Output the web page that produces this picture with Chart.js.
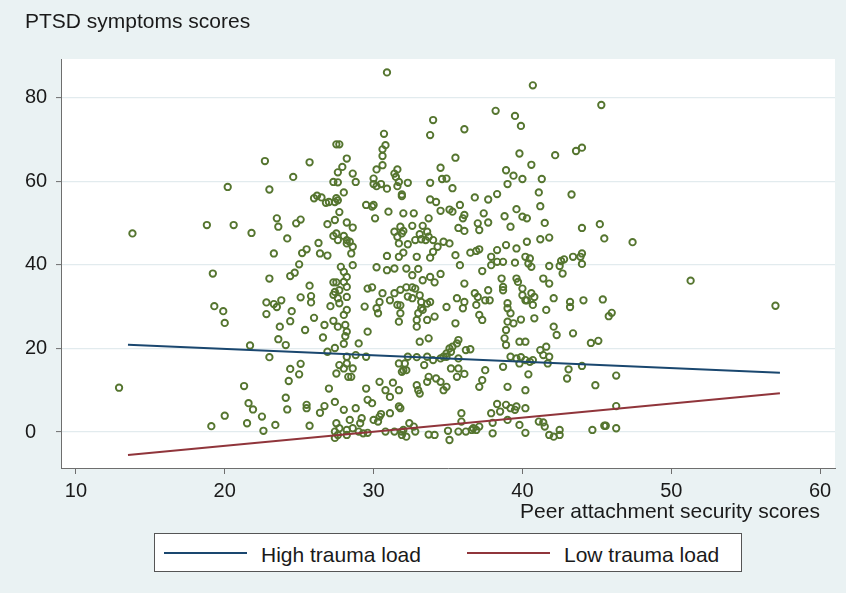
<!DOCTYPE html>
<html>
<head>
<meta charset="utf-8">
<script src="https://cdn.jsdelivr.net/npm/chart.js@4/dist/chart.umd.min.js"></script>
<style>
  html, body { margin: 0; padding: 0; background: #eaf2f3; }
  #wrap { position: relative; width: 846px; height: 593px; overflow: hidden; font-family: "Liberation Sans", Arial, sans-serif; color: #1a1a1a; }
  #c { position: absolute; left: 0; top: 0; }
  .txt { position: absolute; font-size: 21px; line-height: 21px; white-space: nowrap; }
  #legend { position: absolute; left: 154px; top: 533px; width: 586px; height: 37px; border: 1px solid #555; background: #fff; }
  .lg-line { position: absolute; height: 2px; width: 83px; top: 18px; }
  .lg-text { position: absolute; font-size: 21px; line-height: 21px; top: 10px; white-space: nowrap; }
</style>
</head>
<body>
<div id="wrap">
  <canvas id="c" width="846" height="593"></canvas>
  <div class="txt" id="ytitle" style="left:25px; top:10px;"></div>
  <div class="txt" id="xtitle" style="left:0; width:820px; text-align:right; top:500px;"></div>
  <div id="legend"></div>
</div>
<script>
// ---- Data ----
const yAxisTitle = "PTSD symptoms scores";
const xAxisTitle = "Peer attachment security scores";
const xTicks = [10, 20, 30, 40, 50, 60];
const yTicks = [0, 20, 40, 60, 80];
const seriesNames = ["High trauma load", "Low trauma load"];
const highLineX = [13.5, 57.3];
const highLineY = [20.9, 14.2];
const lowLineX = [13.5, 57.3];
const lowLineY = [-5.5, 9.3];
// observed scores: [peer attachment security, PTSD symptoms]
const observations = [
[27.5,68.8],[27.7,68.8],[28.2,65.4],[27.9,63.4],[27.6,62.1],[22.7,64.8],[25.7,64.5],[24.6,61.0],[20.2,58.6],[23.0,58.0],
[27.3,59.8],[27.6,59.7],[28.0,57.3],[26.0,55.9],[26.2,56.5],[26.5,56.1],[26.8,54.8],[27.0,55.0],[27.5,55.9],[27.4,55.0],
[27.6,55.4],[27.7,52.6],[23.5,51.1],[23.6,49.1],[25.1,50.8],[24.8,49.9],[27.4,50.7],[26.9,49.7],[28.2,50.1],[18.8,49.5],
[20.6,49.5],[21.8,47.6],[13.8,47.5],[24.2,46.3],[27.5,47.5],[27.3,46.9],[27.6,45.9],[28.0,46.9],[28.2,45.9],[26.3,45.2],
[28.2,45.1],[23.3,42.7],[25.2,42.8],[25.5,43.7],[26.4,42.7],[26.9,42.2],
[19.2,37.9],[23.0,36.7],[24.4,37.3],[24.7,38.1],[25.0,40.1],[27.8,39.5],[28.0,38.3],[28.2,37.1],[25.7,35.0],[27.3,35.8],
[27.5,35.8],[27.4,33.5],[27.3,32.8],[27.6,32.0],[27.7,33.9],[28.0,35.9],[28.2,34.7],[28.2,32.3],[19.3,30.1],[19.9,28.9],
[20.0,26.1],[22.8,31.0],[22.8,28.2],[23.3,30.6],[23.5,29.9],[23.8,31.5],[24.5,28.9],[25.1,32.2],[25.8,32.5],[25.8,31.0],
[24.4,26.5],[23.7,25.2],[25.4,24.4],[26.0,27.3],[27.1,30.1],[27.7,30.8],[28.2,29.2],[28.0,28.0],[26.7,25.6],[27.3,26.6],
[27.6,25.2],[28.1,25.6],[28.2,24.0],[26.6,22.6],[28.1,22.9],[28.0,21.1],[23.6,22.2],[24.1,20.8],[21.7,20.7],[23.0,17.9],
[26.9,19.2],[27.4,20.1],[28.2,18.0],[28.2,16.4],[27.7,16.0],[28.0,15.2],[28.3,13.2],[24.4,15.1],[25.1,16.3],[25.0,13.8],
[24.3,12.2],[27.5,14.0],[12.9,10.6],[21.3,11.0],[21.6,6.9],[21.9,5.4],[24.1,8.2],[24.2,5.4],[25.5,6.5],[25.5,5.7],
[26.7,6.2],[26.4,4.6],[27.0,10.4],[27.4,7.2],[28.0,5.3],[20.0,3.9],[19.1,1.4],[21.5,2.1],[22.5,3.7],[22.6,0.3],
[23.4,1.7],[25.7,1.5],[27.5,2.1],[27.7,0.9],[27.4,0.1],[27.6,-0.7],[28.2,0.5],[27.4,-1.4],[28.2,-0.7],
[30.9,86.0],[40.7,82.9],[45.3,78.2],[38.2,76.8],[39.5,75.6],[39.9,73.2],[34.0,74.6],[33.8,71.0],[36.1,72.4],[30.7,71.3],
[30.8,68.6],[30.6,67.6],[30.6,66.0],[30.6,63.8],[30.2,62.8],[30.0,60.6],[30.0,59.3],[30.2,58.8],[30.5,59.3],[30.9,58.2],
[31.4,61.8],[31.5,61.0],[31.6,62.8],[31.7,59.8],[31.6,58.8],[32.3,59.6],[35.5,65.6],[34.5,63.2],[34.6,60.5],[34.9,60.6],
[33.8,59.6],[35.3,58.3],[39.8,66.6],[40.6,63.9],[42.2,66.2],[43.6,67.2],[44.0,68.0],[38.9,62.6],[39.4,61.3],[40.0,60.5],
[39.0,59.3],[41.3,60.5],[41.1,57.3],[41.2,54.0],[41.5,50.0],[43.3,56.8],[45.2,49.7],[44.0,48.8],[45.5,46.3],[47.4,45.4],
[31.9,56.8],[31.9,56.4],[31.0,52.7],[30.1,51.1],[29.5,54.3],[29.9,53.9],[30.0,54.3],[32.0,52.3],[32.7,52.3],[33.8,55.6],
[34.2,55.0],[34.5,52.9],[35.3,52.7],[35.1,53.2],[35.8,54.3],[36.1,51.9],[36.0,51.1],[33.7,51.1],[36.8,56.1],[37.7,55.6],
[38.3,56.9],[37.4,52.3],[38.8,51.6],[39.6,53.3],[40.0,51.5],[40.3,51.1],[37.0,49.9],[37.7,50.1],[39.2,49.1],[37.1,48.3],
[35.7,48.8],[36.1,48.1],[32.6,49.3],[33.3,49.3],[33.6,47.9],[33.1,47.3],[33.2,46.1],[33.5,45.9],[33.7,46.7],[34.0,45.9],
[31.4,47.9],[31.8,49.1],[32.0,48.1],[31.6,46.7],[31.9,47.5],[31.7,45.1],[32.3,44.9],[32.8,45.9],[28.6,48.9],[28.6,61.8],
[28.8,59.8],[28.6,44.3],[28.4,45.5],[30.9,42.1],[31.7,41.9],[32.0,42.9],[32.9,41.9],[33.8,41.7],[34.0,43.1],[34.3,44.3],
[34.7,45.5],[35.1,45.1],[35.5,42.3],[36.5,42.9],[36.9,43.3],[37.1,43.7],[38.3,43.5],[37.9,41.9],[38.9,44.7],[39.6,43.9],
[40.3,45.5],[40.2,41.9],[41.2,46.1],[41.8,46.5],[42.8,41.3],[43.4,41.9],[44.0,42.7],[43.9,41.9],
[28.6,39.9],[30.2,39.4],[30.9,38.7],[31.4,39.1],[33.0,39.0],[32.6,37.5],[32.2,39.1],[33.3,36.3],[33.8,37.1],[34.5,37.8],
[34.1,35.8],[35.8,39.9],[36.1,35.5],[37.3,38.5],[37.9,39.9],[38.3,40.7],[38.7,40.7],[39.5,40.5],[40.4,40.3],[40.5,41.5],
[40.6,39.5],[41.8,39.7],[42.5,39.7],[42.7,37.9],[42.6,40.9],[44.0,40.2],[29.9,34.6],[30.6,33.2],[31.4,33.2],[31.1,31.5],
[30.4,31.1],[30.2,29.6],[30.3,28.4],[31.8,34.0],[32.2,34.6],[32.6,34.6],[32.8,34.3],[32.3,32.4],[32.6,32.0],[33.1,32.7],
[33.2,31.1],[33.6,30.7],[33.8,31.1],[33.3,29.2],[33.2,29.6],[33.0,28.4],[31.6,30.4],[31.8,30.3],[31.8,28.4],[31.7,26.4],
[32.9,26.8],[32.9,25.2],[33.6,26.8],[34.1,27.6],[33.7,22.4],[33.1,21.6],[34.9,29.9],[35.6,32.0],[36.1,31.1],[36.0,29.6],
[35.5,26.0],[36.8,33.2],[36.9,30.4],[37.1,28.0],[37.3,26.8],[37.5,31.5],[37.7,33.9],[37.8,31.5],[37.0,32.3],[38.6,36.7],
[38.7,34.7],[38.7,33.9],[39.0,30.8],[39.0,29.6],[39.2,28.4],[39.0,26.4],[38.9,24.4],[38.8,22.4],[38.9,20.8],[39.4,26.0],
[39.6,36.7],[39.7,35.9],[40.0,34.3],[40.0,32.7],[40.2,31.5],[40.6,33.2],[40.8,32.3],[40.7,30.4],[40.8,27.2],[40.3,31.5],
[39.9,26.9],[41.4,36.7],[41.8,35.5],[42.1,32.0],[41.6,29.2],[42.1,25.2],[42.3,23.2],[43.4,23.6],[43.2,31.1],[43.2,29.9],
[44.1,31.5],[45.4,31.7],[45.8,27.7],[46.0,28.5],[44.6,21.3],[45.1,21.8],[39.8,21.6],[40.2,21.6],[41.2,19.6],[41.6,20.4],
[41.4,18.4],[41.8,18.0],[41.7,16.4],[39.2,18.0],[39.6,17.6],[39.9,17.9],[40.2,17.2],[40.5,16.8],[39.8,16.4],[40.7,17.2],
[38.7,15.6],[37.5,14.8],[37.3,12.4],[37.1,10.8],[39.0,10.8],[40.2,10.0],[40.4,13.8],[43.1,15.0],[43.0,12.8],[44.0,15.8],
[44.9,11.2],[46.3,13.5],[34.9,18.0],[35.2,19.2],[35.3,20.4],[35.7,22.0],[35.6,21.2],[35.1,20.0],[34.9,18.8],[35.7,17.6],
[35.7,15.2],[36.1,13.9],[35.6,13.2],[35.2,15.2],[36.2,19.6],[36.5,19.8],[33.6,18.0],[34.0,17.2],[34.5,17.6],[34.7,18.0],
[31.7,16.4],[31.9,14.4],[32.0,14.8],[32.1,16.4],[32.2,14.8],[32.3,18.0],[32.9,17.9],[33.4,16.0],[33.7,13.2],[32.9,11.2],
[33.0,10.0],[33.1,9.2],[33.6,12.0],[34.2,12.8],[34.5,12.0],[34.7,10.0],[34.9,10.8],[31.3,11.8],[31.1,8.4],[30.8,10.0],
[31.7,10.0],[30.4,12.0],[29.5,10.4],[29.6,7.7],[29.9,6.9],[28.8,5.7],[28.5,13.2],[28.6,15.2],[31.7,6.1],[31.8,5.7],
[31.1,4.5],[30.5,4.3],[30.4,3.7],[30.0,2.9],[30.3,2.5],[30.8,0.1],[31.4,0.1],[31.9,0.1],[32.0,0.5],[32.4,2.1],
[32.7,1.3],[32.8,0.1],[32.2,-1.1],[31.9,-0.7],[29.1,2.1],[28.6,0.9],[29.3,-0.3],[29.6,-0.2],[29.0,0.1],[28.4,2.9],
[29.2,3.3],[33.7,-0.6],[34.1,-0.7],[35.0,0.3],[35.1,-1.9],[35.7,0.1],[35.9,2.5],[35.9,4.5],[36.2,0.1],[36.6,0.5],
[36.9,0.5],[36.7,0.9],[37.1,1.3],[38.0,2.2],[38.0,-0.3],[37.9,4.5],[38.3,6.7],[38.5,4.9],[38.9,6.5],[39.2,5.7],
[39.5,5.3],[39.6,6.1],[40.2,5.7],[39.0,2.9],[39.8,1.7],[40.2,-0.2],[41.1,2.5],[41.5,1.3],[41.8,-0.7],[42.1,-1.1],
[42.5,-0.7],[42.5,0.5],[44.7,0.5],[45.5,1.5],[45.6,1.5],[46.3,0.9],[41.4,2.3],[46.3,6.2],[51.3,36.2],[57.0,30.2],
[28.5,42.7],[29.0,21.2],[28.8,18.4],[29.4,30.0],[29.6,34.3],[29.6,24.0],[29.5,18.0]
];

// ---- Styles ----
const FONT = '"Liberation Sans", Arial, sans-serif';
const BG = '#eaf2f3';
const GRID = '#e2ebee';
const AXIS = '#6e6e6e';
const NAVY = '#1a476f';
const MAROON = '#90353b';
const GREEN = '#55752f';

const bgPlugin = {
  id: 'bg',
  beforeDraw(chart) {
    const { ctx, chartArea: a } = chart;
    ctx.save();
    ctx.fillStyle = BG;
    ctx.fillRect(0, 0, chart.width, chart.height);
    ctx.fillStyle = '#ffffff';
    ctx.fillRect(a.left, a.top, a.right - a.left, a.bottom - a.top);
    ctx.restore();
  }
};

const chart = new Chart(document.getElementById('c'), {
  data: {
    datasets: [
      {
        type: 'line', label: seriesNames[0], order: 1,
        data: highLineX.map((x, i) => ({ x, y: highLineY[i] })),
        borderColor: NAVY, borderWidth: 2, pointRadius: 0, fill: false, tension: 0
      },
      {
        type: 'line', label: seriesNames[1], order: 1,
        data: lowLineX.map((x, i) => ({ x, y: lowLineY[i] })),
        borderColor: MAROON, borderWidth: 2, pointRadius: 0, fill: false, tension: 0
      },
      {
        type: 'scatter', label: 'observed', order: 2,
        data: observations.map(p => ({ x: p[0], y: p[1] })),
        pointStyle: 'circle', pointRadius: 3.2, borderWidth: 1.9,
        borderColor: GREEN, backgroundColor: 'rgba(0,0,0,0)'
      }
    ]
  },
  options: {
    responsive: false,
    animation: false,
    devicePixelRatio: 1,
    layout: { padding: { left: 25, top: 59, right: 11, bottom: 0 } },
    plugins: { legend: { display: false }, tooltip: { enabled: false }, title: { display: false } },
    scales: {
      x: {
        type: 'linear', min: 9.0, max: 61.0,
        afterBuildTicks: s => { s.ticks = xTicks.map(v => ({ value: v })); },
        afterFit: s => { s.height = 125; },
        ticks: { font: { size: 20, family: FONT }, color: '#1a1a1a', padding: 5, maxRotation: 0, autoSkip: false },
        grid: { drawOnChartArea: false, drawTicks: true, tickLength: 6, tickColor: AXIS, tickWidth: 1 },
        border: { display: true, color: AXIS, width: 1 }
      },
      y: {
        type: 'linear', min: -8.6, max: 89.2,
        afterBuildTicks: s => { s.ticks = yTicks.map(v => ({ value: v })); },
        afterFit: s => { s.width = 36; },
        ticks: { font: { size: 20, family: FONT }, color: '#1a1a1a', crossAlign: 'far', padding: 8, autoSkip: false },
        grid: { drawOnChartArea: true, color: GRID, lineWidth: 1.2, drawTicks: true, tickLength: 5, tickColor: AXIS, tickWidth: 1 },
        border: { display: true, color: AXIS, width: 1 }
      }
    }
  },
  plugins: [bgPlugin]
});

// ---- Text & legend (built from the chart's datasets) ----
document.getElementById('ytitle').textContent = yAxisTitle;
document.getElementById('xtitle').textContent = xAxisTitle;
const legend = document.getElementById('legend');
const lineOffsets = [9, 312];
chart.data.datasets.filter(d => d.type === 'line').forEach((d, i) => {
  const ln = document.createElement('div');
  ln.className = 'lg-line';
  ln.style.left = lineOffsets[i] + 'px';
  ln.style.background = d.borderColor;
  legend.appendChild(ln);
  const tx = document.createElement('div');
  tx.className = 'lg-text';
  tx.style.left = (lineOffsets[i] + 97) + 'px';
  tx.textContent = d.label;
  legend.appendChild(tx);
});
</script>
</body>
</html>
